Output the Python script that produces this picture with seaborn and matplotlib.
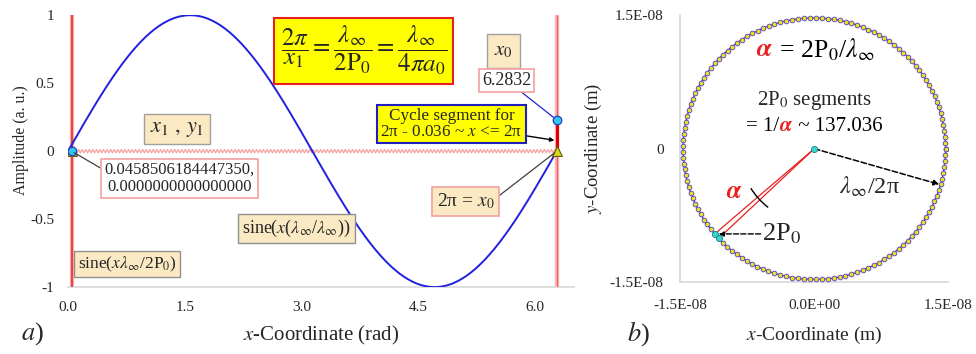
import numpy as np
import pandas as pd
import matplotlib
matplotlib.use("Agg")
import matplotlib.pyplot as plt
import seaborn as sns
from matplotlib.patches import Arc

# ---------------- data ----------------
x_ticks_a = [0.0, 1.5, 3.0, 4.5, 6.0]
x_tick_labels_a = ["0.0", "1.5", "3.0", "4.5", "6.0"]
y_ticks_a = [-1, -0.5, 0, 0.5, 1]
y_tick_labels_a = ["-1", "-0.5", "0", "0.5", "1"]
x1 = 0.0458506184447350
y1 = 0.0
x0 = 6.2832
cycle_top = 0.23
zig_amp = 0.012

n_segments = 137.036
radius_m = 1.47e-8
alpha_points = [84, 85]
lambda_arrow_deg = -16.0
ticks_b = [-1.5e-8, 0.0, 1.5e-8]
x_tick_labels_b = ["-1.5E-08", "0.0E+00", "1.5E-08"]
y_tick_labels_b = ["-1.5E-08", "0", "1.5E-08"]

# ---------------- style ----------------
sns.set_theme(style="white")
plt.rcParams["font.family"] = ["Liberation Serif", "DejaVu Serif"]
plt.rcParams["mathtext.fontset"] = "stix"

fig = plt.figure(figsize=(9.76, 3.54), dpi=100)
axa = fig.add_axes([0.0697, 0.189, 0.518, 0.768])
axb = fig.add_axes([0.697, 0.203, 0.2746, 0.754])
renderer = fig.canvas.get_renderer()

BLUE = "#2020e0"
RED = "#e82020"
PINK = "#f4a0a0"
WHEAT = "#fbe9c4"


def chain(ax, x, y, pieces, fontsize):
    """Draw text pieces side by side (each with its own colour), centred at (x, y)."""
    widths = []
    for s, c in pieces:
        t = ax.text(0, 0, s, fontsize=fontsize)
        widths.append(t.get_window_extent(renderer).width)
        t.remove()
    px, py = ax.transData.transform((x, y))
    start = px - sum(widths) / 2
    inv = ax.transData.inverted()
    for (s, c), w in zip(pieces, widths):
        dx, dy = inv.transform((start, py))
        ax.text(dx, dy, s, color=c, fontsize=fontsize, ha="left", va="center_baseline")
        start += w


# ---------------- panel a ----------------
xs = np.linspace(0, 2 * np.pi, 500)
sine_df = pd.DataFrame({"x": xs, "y": np.sin(xs)})
n_z = int(2 * round(n_segments))
xz = np.linspace(x1, x0, n_z)
zig_df = pd.DataFrame({"x": xz, "y": zig_amp * np.resize([1, -1], n_z)})

sns.lineplot(data=zig_df, x="x", y="y", ax=axa, color=PINK, lw=0.9, sort=False, zorder=2)
for xv in [x1, x0]:
    axa.plot([xv, xv], [-1, 1], color=PINK, lw=3.2, alpha=0.8, zorder=2,
             solid_capstyle="butt")
axa.plot([x1, x1], [-1, 1], color=RED, lw=1.1, zorder=3, solid_capstyle="butt")
axa.plot([x0, x0], [-1, 1], color="#f06060", lw=0.8, zorder=3, solid_capstyle="butt")
axa.plot([x0, x0], [y1, cycle_top], color="#e00000", lw=2.2, zorder=4)
sns.lineplot(data=sine_df, x="x", y="y", ax=axa, color=BLUE, lw=1.4, zorder=5)

tri_df = pd.DataFrame({"x": [x1, x0], "y": [y1, y1]})
sns.scatterplot(data=tri_df, x="x", y="y", ax=axa, marker="^", s=50,
                color="#d8d820", edgecolor="#606000", linewidth=0.8, zorder=6)
circ_df = pd.DataFrame({"x": [x1, x0], "y": [y1, cycle_top]})
sns.scatterplot(data=circ_df, x="x", y="y", ax=axa, marker="o", s=38,
                color="#30c8f0", edgecolor="#2040c0", linewidth=0.9, zorder=7)

axa.set_xlim(0, 6.5)
axa.set_ylim(-1, 1)
axa.set_xticks(x_ticks_a, x_tick_labels_a)
axa.set_yticks(y_ticks_a, y_tick_labels_a)
axa.tick_params(length=0, labelsize=11, pad=10)
for s in ["top", "right", "left"]:
    axa.spines[s].set_visible(False)
axa.spines["bottom"].set_color("#d9d9d9")
axa.set_xlabel("$x$-Coordinate (rad)", fontsize=15)
axa.set_ylabel("Amplitude (a. u.)", fontsize=11.5)
axa.xaxis.set_label_coords(0.5, -0.135)
axa.yaxis.set_label_coords(-0.078, 0.54)

axa.text(3.80, 0.74,
         r"$\dfrac{2\pi}{x_1} = \dfrac{\lambda_\infty}{2\mathrm{P}_0} = \dfrac{\lambda_\infty}{4\pi a_0}$",
         fontsize=18, ha="center", va="center", zorder=10,
         bbox=dict(boxstyle="square,pad=0.25", fc="#ffff00", ec=RED, lw=1.5))
axa.text(5.60, 0.735, "$x_0$", fontsize=15, ha="center", va="center", zorder=10,
         bbox=dict(boxstyle="square,pad=0.35", fc=WHEAT, ec="#a0a0a0", lw=1))
axa.annotate("6.2832", xy=(x0, cycle_top), xytext=(5.64, 0.52), fontsize=13,
             ha="center", va="center", zorder=10,
             bbox=dict(boxstyle="square,pad=0.15", fc="white", ec=PINK, lw=1.2),
             arrowprops=dict(arrowstyle="-", color=BLUE, lw=0.9, shrinkA=0, shrinkB=3))
axa.annotate("Cycle segment for\n2π - 0.036 ~ $x$ <= 2π", xy=(x0 - 0.03, 0.08),
             xytext=(4.93, 0.20), fontsize=12.3, ha="center", va="center",
             linespacing=1.0, zorder=10,
             bbox=dict(boxstyle="square,pad=0.18", fc="#ffff00", ec="#2020c0", lw=1.5),
             arrowprops=dict(arrowstyle="-|>", color="black", lw=1.0, shrinkA=0,
                             shrinkB=0, mutation_scale=6))
axa.text(1.40, 0.16, r"$x_1\ ,\, y_1$", fontsize=16, ha="center", va="center", zorder=10,
         bbox=dict(boxstyle="square,pad=0.25", fc=WHEAT, ec="#a0a0a0", lw=1))
axa.annotate("0.0458506184447350,\n0.0000000000000000", xy=(x1, y1),
             xytext=(1.43, -0.2), fontsize=12, ha="center", va="center",
             linespacing=1.05, zorder=10,
             bbox=dict(boxstyle="square,pad=0.2", fc="white", ec=PINK, lw=1.2),
             arrowprops=dict(arrowstyle="-", color="#404040", lw=0.9, shrinkA=0,
                             shrinkB=2, relpos=(0.0, 0.75)))
axa.annotate("2π = $x_0$", xy=(x0, y1), xytext=(5.11, -0.37), fontsize=14,
             ha="center", va="center", zorder=10,
             bbox=dict(boxstyle="square,pad=0.25", fc=WHEAT, ec=PINK, lw=1.2),
             arrowprops=dict(arrowstyle="-", color="#404040", lw=0.9, shrinkA=0,
                             shrinkB=2, relpos=(1.0, 0.6)))
axa.text(2.94, -0.57, r"sine($x$($\lambda_\infty$/$\lambda_\infty$))", fontsize=13,
         ha="center", va="center", zorder=10,
         bbox=dict(boxstyle="square,pad=0.22", fc=WHEAT, ec="#909090", lw=1))
axa.text(0.76, -0.83, r"sine($x\lambda_\infty$/2P$_0$)", fontsize=12.5,
         ha="center", va="center", zorder=10,
         bbox=dict(boxstyle="square,pad=0.22", fc=WHEAT, ec="#909090", lw=1))

# ---------------- panel b ----------------
axb.set_xlim(-1.5e-8, 1.5e-8)
axb.set_ylim(-1.5e-8, 1.5e-8)

k = np.arange(0, int(n_segments) + 1)
ang = k * 2 * np.pi / n_segments
circle_df = pd.DataFrame({"x": radius_m * np.cos(ang), "y": radius_m * np.sin(ang)})
sns.lineplot(data=circle_df, x="x", y="y", ax=axb, sort=False, color="#7030b0", lw=1.0,
             marker="o", markersize=3.4, markerfacecolor="#e8e020",
             markeredgecolor="#5040c8", markeredgewidth=0.6, zorder=3)

for kk in alpha_points:
    a = kk * 2 * np.pi / n_segments
    axb.plot([0, radius_m * np.cos(a)], [0, radius_m * np.sin(a)], color=RED, lw=0.9,
             zorder=4)
pts_df = pd.DataFrame({
    "x": [0.0] + [radius_m * np.cos(kk * 2 * np.pi / n_segments) for kk in alpha_points],
    "y": [0.0] + [radius_m * np.sin(kk * 2 * np.pi / n_segments) for kk in alpha_points],
})
sns.scatterplot(data=pts_df, x="x", y="y", ax=axb, s=20, color="#30d8d0",
                edgecolor="#208080", linewidth=0.6, zorder=6)

la = np.deg2rad(lambda_arrow_deg)
axb.annotate("", xy=(radius_m * np.cos(la), radius_m * np.sin(la)), xytext=(0, 0),
             arrowprops=dict(arrowstyle="-|>", ls="--", color="black", lw=1.1,
                             shrinkA=0, shrinkB=1, mutation_scale=8), zorder=5)
a2 = alpha_points[0] * 2 * np.pi / n_segments
p2x, p2y = radius_m * np.cos(a2), radius_m * np.sin(a2)
axb.annotate("", xy=(p2x + 0.03e-8, p2y), xytext=(-0.6e-8, p2y),
             arrowprops=dict(arrowstyle="-|>", ls="--", color="black", lw=1.0,
                             shrinkA=0, shrinkB=1, mutation_scale=7), zorder=5)
axb.text(-0.59e-8, p2y, "2P$_0$", fontsize=19, ha="left", va="center")
axb.add_patch(Arc((0, 0), 2 * 0.57 * radius_m, 2 * 0.57 * radius_m, theta1=212,
                  theta2=232, color="black", lw=1.0, zorder=5))

chain(axb, 0.01e-8, 1.14e-8,
      [(r"$\boldsymbol{\alpha}$", RED), (r" = 2P$_0$/$\lambda_\infty$", "black")], 18.5)
axb.text(0.0, 0.545e-8, "2P$_0$ segments", fontsize=15, ha="center", va="center")
chain(axb, 0.0, 0.275e-8,
      [("= 1/", "black"), (r"$\boldsymbol{\alpha}$", RED), (" ~ 137.036", "black")], 15)
axb.text(-0.896e-8, -0.489e-8, r"$\boldsymbol{\alpha}$", color=RED, fontsize=18,
         ha="center", va="center")
axb.text(0.616e-8, -0.433e-8, r"$\lambda_\infty$/2π", fontsize=17.5, ha="center",
         va="center")

axb.set_xticks(ticks_b, x_tick_labels_b)
axb.set_yticks(ticks_b, y_tick_labels_b)
axb.tick_params(length=0, labelsize=11, pad=12)
for s in ["top", "right"]:
    axb.spines[s].set_visible(False)
for s in ["left", "bottom"]:
    axb.spines[s].set_color("#d9d9d9")
axb.set_xlabel("$x$-Coordinate (m)", fontsize=14)
axb.set_ylabel("$y$-Coordinate (m)", fontsize=13.5)
axb.xaxis.set_label_coords(0.5, -0.16)
axb.yaxis.set_label_coords(-0.285, 0.5)

fig.text(32 / 976, 1 - 334 / 354, "$a$)", fontsize=19, ha="center", va="center")
fig.text(638 / 976, 1 - 334 / 354, "$b$)", fontsize=19, ha="center", va="center")

fig.savefig("out.png", dpi=100)
